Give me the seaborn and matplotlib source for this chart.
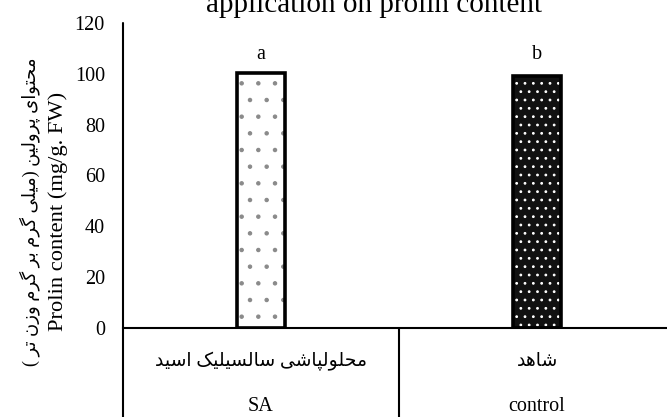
import matplotlib
matplotlib.use("Agg")
import matplotlib.pyplot as plt
import seaborn as sns

title = "application on prolin content"
groups = ["SA", "control"]
groups_fa = ["محلولپاشی سالسیلیک اسید", "شاهد"]
prolin = [100.4, 99.0]
letters = ["a", "b"]
ylabel_en = "Prolin content (mg/g. FW)"
ylabel_fa = "محتوای پرولین (میلی گرم بر گرم وزن تر )"
yticks = [0, 20, 40, 60, 80, 100, 120]

# arabic presentation forms: isolated, final, initial, medial
FORMS = {
    "ا": ("\uFE8D", "\uFE8E", None, None),
    "ب": ("\uFE8F", "\uFE90", "\uFE91", "\uFE92"),
    "پ": ("\uFB56", "\uFB57", "\uFB58", "\uFB59"),
    "ت": ("\uFE95", "\uFE96", "\uFE97", "\uFE98"),
    "ح": ("\uFEA1", "\uFEA2", "\uFEA3", "\uFEA4"),
    "د": ("\uFEA9", "\uFEAA", None, None),
    "ر": ("\uFEAD", "\uFEAE", None, None),
    "ز": ("\uFEAF", "\uFEB0", None, None),
    "س": ("\uFEB1", "\uFEB2", "\uFEB3", "\uFEB4"),
    "ش": ("\uFEB5", "\uFEB6", "\uFEB7", "\uFEB8"),
    "ک": ("\uFB8E", "\uFB8F", "\uFB90", "\uFB91"),
    "گ": ("\uFB92", "\uFB93", "\uFB94", "\uFB95"),
    "ل": ("\uFEDD", "\uFEDE", "\uFEDF", "\uFEE0"),
    "م": ("\uFEE1", "\uFEE2", "\uFEE3", "\uFEE4"),
    "ن": ("\uFEE5", "\uFEE6", "\uFEE7", "\uFEE8"),
    "و": ("\uFEED", "\uFEEE", None, None),
    "ه": ("\uFEE9", "\uFEEA", "\uFEEB", "\uFEEC"),
    "ی": ("\uFBFC", "\uFBFD", "\uFBFE", "\uFBFF"),
}


def shape_fa(text):
    # join letters and put them in visual (left to right) order
    out = []
    for i, ch in enumerate(text):
        if ch not in FORMS:
            out.append(ch)
            continue
        iso, fin, ini, med = FORMS[ch]
        prev = text[i - 1] if i > 0 else ""
        nxt = text[i + 1] if i + 1 < len(text) else ""
        join_prev = prev in FORMS and FORMS[prev][2] is not None
        join_next = ini is not None and nxt in FORMS
        if join_prev and join_next:
            out.append(med)
        elif join_prev:
            out.append(fin)
        elif join_next:
            out.append(ini)
        else:
            out.append(iso)
    mirror = {"(": ")", ")": "("}
    return "".join(mirror.get(c, c) for c in reversed(out))


sns.set_theme(style="white")
plt.rcParams["font.family"] = ["Liberation Serif", "DejaVu Sans"]
plt.rcParams["hatch.linewidth"] = 0.8
fs = 14.5

fig = plt.figure(figsize=(6.67, 4.17), dpi=100)
ax = fig.add_axes([0.1844, 0.2146, 0.8156, 0.7302])

sns.barplot(x=groups, y=prolin, width=0.174, ax=ax)
for patch, fc, hc, h in zip(ax.patches, ["white", "#111111"], ["#8a8a8a", "white"], [".", ".."]):
    patch.set_facecolor(fc)
    patch.set_edgecolor(hc)
    patch.set_hatch(h)
    patch.set_linewidth(0.5)
sns.barplot(x=groups, y=prolin, width=0.174, ax=ax, fill=False,
            color="black", linewidth=2.6)

ax.set_xlim(-0.5, 1.471)
ax.set_ylim(0, 120)
ax.set_yticks(yticks)
ax.tick_params(axis="y", length=0, pad=13, labelsize=fs, labelcolor="black")
ax.set_xticks([])
ax.set_xlabel("")
ax.set_ylabel("")
for s in ["top", "right", "left"]:
    ax.spines[s].set_visible(False)
ax.spines["bottom"].set_color("black")
ax.spines["bottom"].set_linewidth(1.5)

# axis line and category separators running below the zero line
ax.axvline(-0.5, ymin=-0.294, ymax=1, color="black", lw=1.5, clip_on=False)
ax.axvline(0.5, ymin=-0.294, ymax=0, color="black", lw=1.5, clip_on=False)

trans = ax.get_xaxis_transform()
for i, (en, fa) in enumerate(zip(groups, groups_fa)):
    ax.text(i, -0.11, shape_fa(fa), transform=trans, ha="center", va="center",
            fontsize=13.5, color="black")
    ax.text(i, -0.26, en, transform=trans, ha="center", va="center",
            fontsize=fs, color="black")

for i, lab in enumerate(letters):
    ax.text(i, 107.5, lab, ha="center", va="center", fontsize=fs, color="black")

fig.text(0.087, 0.494, ylabel_en, rotation=90, ha="center", va="center",
         fontsize=16.2, color="black")
fig.text(0.044, 0.492, shape_fa(ylabel_fa), rotation=90, ha="center",
         va="center", fontsize=13, color="black")
fig.text(0.56, 0.971, title, ha="center", va="baseline", fontsize=21,
         color="black")

fig.savefig("out.png", dpi=100)
